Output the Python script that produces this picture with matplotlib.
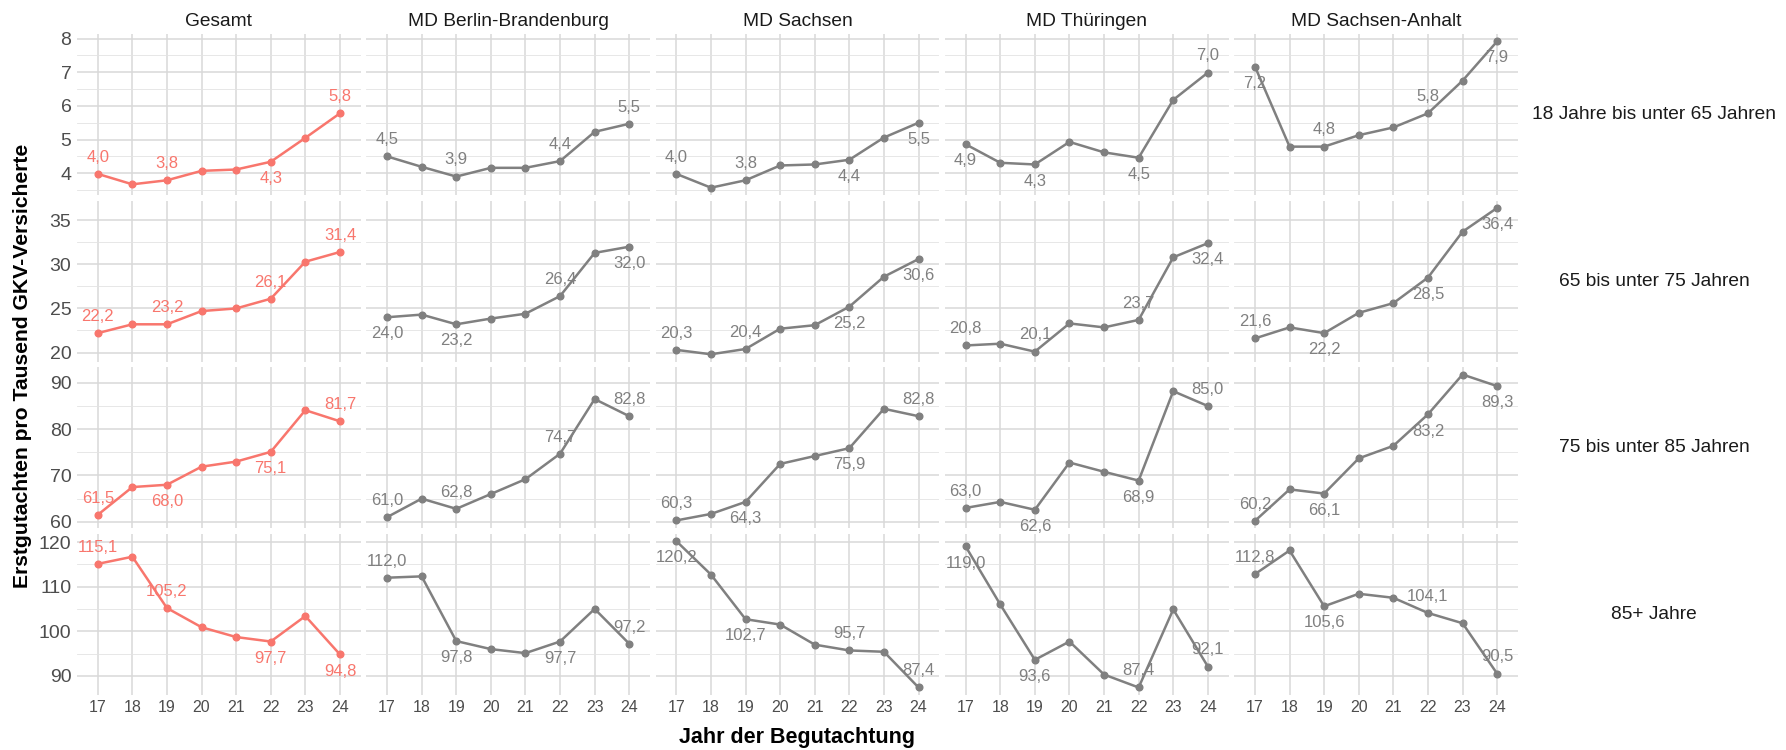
import matplotlib
matplotlib.use("Agg")
import matplotlib.pyplot as plt
from matplotlib.ticker import MultipleLocator

plt.rcParams['font.family'] = ['Liberation Sans', 'DejaVu Sans']

years = [17, 18, 19, 20, 21, 22, 23, 24]
regions = ["Gesamt", "MD Berlin-Brandenburg", "MD Sachsen", "MD Thüringen", "MD Sachsen-Anhalt"]
age_groups = ["18 Jahre bis unter 65 Jahren", "65 bis unter 75 Jahren",
              "75 bis unter 85 Jahren", "85+ Jahre"]
labeled_years = [17, 19, 22, 24]

# Erstgutachten pro Tausend, one list per region, per age group
age_18_65 = [
    [3.98, 3.67, 3.79, 4.07, 4.11, 4.34, 5.05, 5.78],
    [4.50, 4.19, 3.90, 4.16, 4.16, 4.36, 5.23, 5.47],
    [3.98, 3.57, 3.79, 4.23, 4.26, 4.40, 5.06, 5.50],
    [4.86, 4.31, 4.26, 4.93, 4.62, 4.46, 6.18, 6.99],
    [7.17, 4.79, 4.79, 5.13, 5.36, 5.78, 6.75, 7.92],
]
age_65_75 = [
    [22.2, 23.2, 23.2, 24.7, 25.0, 26.1, 30.3, 31.4],
    [24.0, 24.3, 23.2, 23.85, 24.4, 26.4, 31.3, 32.0],
    [20.3, 19.8, 20.4, 22.7, 23.1, 25.2, 28.6, 30.6],
    [20.8, 21.0, 20.1, 23.3, 22.85, 23.7, 30.8, 32.4],
    [21.6, 22.85, 22.2, 24.5, 25.6, 28.5, 33.7, 36.4],
]
age_75_85 = [
    [61.5, 67.5, 68.0, 71.9, 73.0, 75.1, 84.1, 81.7],
    [61.0, 65.0, 62.8, 66.0, 69.2, 74.7, 86.5, 82.8],
    [60.3, 61.7, 64.3, 72.5, 74.2, 75.9, 84.4, 82.8],
    [63.0, 64.3, 62.6, 72.8, 70.8, 68.9, 88.2, 85.0],
    [60.2, 67.0, 66.1, 73.7, 76.4, 83.2, 91.8, 89.3],
]
age_85_plus = [
    [115.1, 116.7, 105.2, 100.9, 98.7, 97.7, 103.4, 94.8],
    [112.0, 112.3, 97.8, 96.0, 95.1, 97.7, 105.0, 97.2],
    [120.2, 112.7, 102.7, 101.5, 97.0, 95.7, 95.4, 87.4],
    [119.0, 106.0, 93.6, 97.7, 90.3, 87.4, 104.9, 92.1],
    [112.8, 118.1, 105.6, 108.4, 107.5, 104.1, 101.8, 90.5],
]
rows = [age_18_65, age_65_75, age_75_85, age_85_plus]
y_steps = [1, 5, 10, 10]

# which side the value label sits on (a = above, b = below), for years 17, 19, 22, 24
label_side = [
    ["aaba", "aaaa", "aabb", "bbba", "baab"],
    ["aaaa", "bbab", "aabb", "aaab", "abbb"],
    ["abba", "aaaa", "abba", "abba", "abbb"],
    ["aabb", "abba", "bbaa", "bbaa", "abaa"],
]

RED = "#F8766D"
GREY = "#808080"
NARROW = ['Liberation Sans Narrow', 'Liberation Sans', 'DejaVu Sans']

W, H = 1786, 750
fig = plt.figure(figsize=(W / 100, H / 100), dpi=100)

left0, pw, hstep = 77, 283.7, 289.3
top0, ph, vstep = 34, 161, 166.6


def fmt(v):
    return f"{v:.1f}".replace(".", ",")


for r, row in enumerate(rows):
    allv = [v for s in row for v in s]
    lo, hi = min(allv), max(allv)
    pad = 0.05 * (hi - lo)
    for c, vals in enumerate(row):
        left = left0 + c * hstep
        top = top0 + r * vstep
        ax = fig.add_axes([left / W, 1 - (top + ph) / H, pw / W, ph / H])
        col = RED if c == 0 else GREY
        ax.plot(years, vals, color=col, lw=1.8, marker='o', ms=4.8, zorder=3)
        for k, yr in enumerate(labeled_years):
            v = vals[years.index(yr)]
            dy = 12 if label_side[r][c][k] == "a" else -12
            ax.annotate(fmt(v), (yr, v), xytext=(0, dy), textcoords='offset points',
                        ha='center', va='center', color=col, fontsize=12, zorder=4)
        ax.set_xlim(16.4, 24.6)
        ax.set_ylim(lo - pad, hi + pad)
        ax.set_xticks(years)
        ax.yaxis.set_major_locator(MultipleLocator(y_steps[r]))
        ax.yaxis.set_minor_locator(MultipleLocator(y_steps[r] / 2))
        ax.grid(which='major', color='#D9D9D9', lw=1.1)
        ax.grid(which='minor', axis='y', color='#E3E3E3', lw=0.6)
        ax.set_axisbelow(True)
        for s in ax.spines.values():
            s.set_visible(False)
        ax.tick_params(which='both', length=0, labelsize=11.5, labelcolor='#4D4D4D', pad=4)
        for t in ax.get_yticklabels():
            t.set_fontfamily(NARROW)
            t.set_fontsize(14)
        if c != 0:
            ax.tick_params(labelleft=False)
        if r != len(rows) - 1:
            ax.tick_params(labelbottom=False)
        if r == 0:
            ax.set_title(regions[c], fontsize=13.8, color='#1A1A1A', pad=6)
    fig.text(1654 / W, 1 - (top0 + r * vstep + ph / 2) / H, age_groups[r],
             ha='center', va='center', fontsize=13.8, color='#1A1A1A')

fig.text(797 / W, 1 - 737 / H, "Jahr der Begutachtung", ha='center', va='center',
         fontsize=15.5, fontweight='bold', family=NARROW)
fig.text(23 / W, 1 - 366 / H, "Erstgutachten pro Tausend GKV-Versicherte", ha='center',
         va='center', rotation=90, fontsize=15.2, fontweight='bold')

fig.savefig("out.png", dpi=100)
